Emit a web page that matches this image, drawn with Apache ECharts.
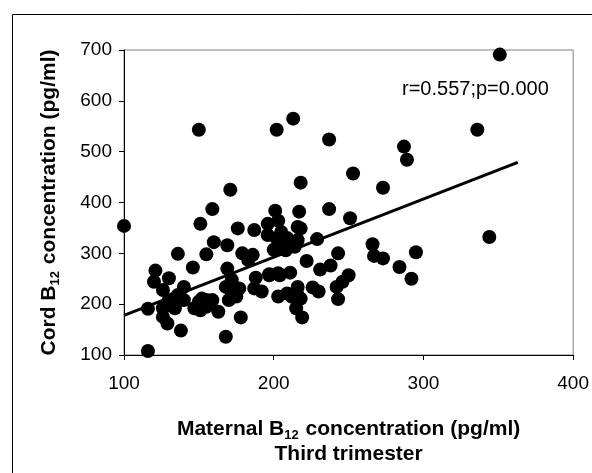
<!DOCTYPE html>
<html>
<head>
<meta charset="utf-8">
<script src="https://cdn.jsdelivr.net/npm/echarts@6/dist/echarts.min.js"></script>
<style>
html,body{margin:0;padding:0;background:#fff;}
#chart{width:592px;height:473px;}
</style>
</head>
<body>
<div id="chart"></div>
<script>
// Maternal B12 (x) vs cord B12 (y), pg/ml
const maternalB12 = [100,116,116,121,120,130,126,136,130,140,140,126,134,126,129,138,136,146,150,151,150,155,147,151,159,155,159,160,163,152,155,133,
  168,169,169,171,172,168,172,177,170,175,176,179,178,186,183,187,188,187,192,197,196,196,
  201,203,200,205,202,209,205,208,214,214,216,216,218,217,218,213,202,203,197,204,211,203,209,212,215.5,216,218,215,219,206,
  222,229,231,226,230,237,237,238,243,242,246,250,243,251,253,
  266,267,273,273,284,287,289,292,295,336,344,351];
const cordB12 = [354,191,108,266,244,251,228,218,208,234,208,192,192,175,162,148,299,272,543,358,205,208,192,188,208,298,387,322,185,211,195,210,
  136,316,270,425,248,234,225,231,208,215,349,300,174,297,287,346,252,231,225,259,358,336,
  384,364,307,342,329,330,313,306,313,320,326,352,349,382,439,565,543,261,257,257,262,215,221,215,221,234,211,192,174,320,
  285,328,268,233,225,387,524,276,300,234,244,257,210,369,457,
  318,295,290,429,273,510,484,250,302,543,332,691];
// regression line end points
const fitX = [100, 363];
const fitY = [178, 479];
const xTicks = [100, 200, 300, 400];
const yTicks = [100, 200, 300, 400, 500, 600, 700];
const statText = 'r=0.557;p=0.000';

const FONT = '"Liberation Sans", Arial, sans-serif';
const chart = echarts.init(document.getElementById('chart'), null, {renderer:'canvas'});
const pts = maternalB12.map((x,i)=>[x, cordB12[i]]);
const fit = fitX.map((x,i)=>[x, fitY[i]]);
const subRich = {
  b: {fontFamily: FONT, fontSize: 21, fontWeight: 'bold', color: '#000', lineHeight: 25},
  s: {fontFamily: FONT, fontSize: 13, fontWeight: 'bold', color: '#000', lineHeight: 25, verticalAlign: 'bottom', padding:[0,1,0,0]}
};
chart.setOption({
  animation: false,
  backgroundColor: '#fff',
  grid: {left: 124, right: 16, top: 50, bottom: 118, show: true, borderColor: '#808080', borderWidth: 1, backgroundColor: 'transparent'},
  xAxis: {
    type: 'value', min: xTicks[0], max: xTicks[xTicks.length-1], interval: 100,
    axisLine: {show: true, onZero: false, lineStyle: {color: '#000', width: 1}},
    axisTick: {show: true, length: 5, lineStyle: {color: '#000'}},
    splitLine: {show: false},
    axisLabel: {fontFamily: FONT, fontSize: 19, color: '#000', margin: 19, showMaxLabel: true},
    name: '{b|Maternal B}{s|12}{b| concentration (pg/ml)}\n{b|Third trimester}',
    nameLocation: 'middle', nameGap: 62,
    nameTextStyle: {rich: subRich, align: 'center'}
  },
  yAxis: {
    type: 'value', min: yTicks[0], max: yTicks[yTicks.length-1], interval: 100,
    axisLine: {show: true, onZero: false, lineStyle: {color: '#000', width: 1}},
    axisTick: {show: true, length: 5, lineStyle: {color: '#000'}},
    splitLine: {show: false},
    axisLabel: {fontFamily: FONT, fontSize: 19, color: '#000', margin: 12},
    name: '{b|Cord B}{s|12}{b| concentration (pg/ml)}',
    nameLocation: 'middle', nameGap: 62,
    nameTextStyle: {rich: subRich}
  },
  graphic: [
    {type: 'rect', left: 10, top: 12, shape: {x: 0, y: 0, width: 620, height: 520}, style: {fill: 'none', stroke: '#000', lineWidth: 1}, silent: true, z: -10},
    {type: 'text', left: 402, top: 79, style: {text: statText, fontFamily: FONT, fontSize: 20, fill: '#000'}}
  ],
  series: [
    {type: 'scatter', data: pts, symbol: 'circle', symbolSize: 14, itemStyle: {color: '#000', opacity: 1}, z: 2},
    {type: 'line', data: fit, symbol: 'none', lineStyle: {color: '#000', width: 3}, z: 3, silent: true}
  ]
});
</script>
</body>
</html>
